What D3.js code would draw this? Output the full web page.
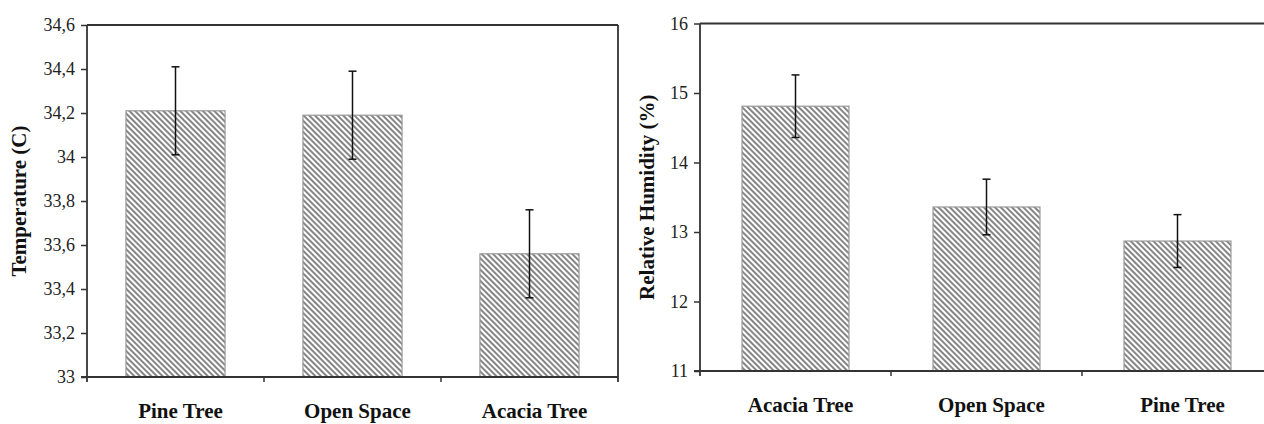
<!DOCTYPE html>
<html lang="en">
<head>
<meta charset="utf-8">
<title>Temperature and humidity</title>
<script src="https://d3js.org/d3.v7.min.js"></script>
<style>
  body { margin: 0; background: #fff; }
</style>
</head>
<body>
<script>
// temperature panel
const tempSites = ["Pine Tree", "Open Space", "Acacia Tree"];
const tempMean = [34.21, 34.19, 33.56];
const tempErr = [0.2, 0.2, 0.2];
const tempTicks = [33, 33.2, 33.4, 33.6, 33.8, 34, 34.2, 34.4, 34.6];

// humidity panel
const humSites = ["Acacia Tree", "Open Space", "Pine Tree"];
const humMean = [14.81, 13.36, 12.87];
const humErr = [0.45, 0.4, 0.38];
const humTicks = [11, 12, 13, 14, 15, 16];

const serif = "'Liberation Serif', serif";

const svg = d3.select("body").append("svg")
  .attr("width", 1264).attr("height", 424);

// diagonal hatch
const pat = svg.append("defs").append("pattern")
  .attr("id", "hatch")
  .attr("patternUnits", "userSpaceOnUse")
  .attr("width", 4).attr("height", 4)
  .attr("patternTransform", "rotate(-45)");
pat.append("rect").attr("width", 4).attr("height", 4).attr("fill", "#fff");
pat.append("rect").attr("width", 2).attr("height", 4).attr("fill", "#858585");

function panel(o) {
  const g = svg.append("g");
  const x = d3.scaleBand().domain(o.sites).range([o.left, o.right])
    .paddingInner(0.44).paddingOuter(0.22);
  const y = d3.scaleLinear().domain(o.domain).range([o.bottom, o.top]);

  // bars
  g.selectAll("rect.bar").data(o.sites).enter().append("rect")
    .attr("class", "bar")
    .attr("x", d => x(d))
    .attr("width", x.bandwidth())
    .attr("y", (d, i) => y(o.mean[i]))
    .attr("height", (d, i) => o.bottom - y(o.mean[i]))
    .attr("fill", "url(#hatch)")
    .attr("stroke", "#999").attr("stroke-width", 1.2);

  // error bars
  const eb = g.selectAll("g.err").data(o.sites).enter().append("g")
    .attr("stroke", "#111").attr("stroke-width", 1.5);
  eb.append("line")
    .attr("x1", d => x(d) + x.bandwidth() / 2).attr("x2", d => x(d) + x.bandwidth() / 2)
    .attr("y1", (d, i) => y(o.mean[i] + o.err[i])).attr("y2", (d, i) => y(o.mean[i] - o.err[i]));
  [1, -1].forEach(s => {
    eb.append("line")
      .attr("x1", d => x(d) + x.bandwidth() / 2 - 4).attr("x2", d => x(d) + x.bandwidth() / 2 + 4)
      .attr("y1", (d, i) => y(o.mean[i] + s * o.err[i])).attr("y2", (d, i) => y(o.mean[i] + s * o.err[i]));
  });

  // y axis
  const ya = g.append("g").attr("transform", `translate(${o.left},0)`)
    .call(d3.axisLeft(y).tickValues(o.ticks).tickSize(6).tickPadding(6)
      .tickFormat(d => String(+d.toFixed(1)).replace(".", ",")));
  ya.select(".domain").remove();
  ya.selectAll("line").attr("stroke", "#333").attr("stroke-width", 1.5);
  ya.selectAll("text").attr("fill", "#222")
    .style("font-family", serif).style("font-size", "18px");

  // frame lines
  g.append("line").attr("x1", o.left).attr("x2", o.left).attr("y1", o.top).attr("y2", o.bottom + 5)
    .attr("stroke", "#333").attr("stroke-width", 1.8);
  g.append("line").attr("x1", o.left).attr("x2", o.right).attr("y1", o.top).attr("y2", o.top)
    .attr("stroke", "#333").attr("stroke-width", 1.8);
  g.append("line").attr("x1", o.left - 6).attr("x2", o.right).attr("y1", o.bottom).attr("y2", o.bottom)
    .attr("stroke", "#333").attr("stroke-width", 1.8);
  g.append("line").attr("x1", o.right).attr("x2", o.right).attr("y1", o.top).attr("y2", o.bottom + 5)
    .attr("stroke", "#333").attr("stroke-width", 1.8);

  // category boundary ticks
  const edges = o.sites.map(d => x(d) - x.step() * x.paddingInner() / 2).slice(1);
  g.selectAll("line.ct").data(edges).enter().append("line")
    .attr("x1", d => d).attr("x2", d => d).attr("y1", o.bottom).attr("y2", o.bottom + 5)
    .attr("stroke", "#333").attr("stroke-width", 1.5);

  // category labels
  g.selectAll("text.cat").data(o.sites).enter().append("text")
    .style("font-family", serif).style("font-weight", "bold").style("font-size", "21px")
    .attr("fill", "#111")
    .attr("x", d => x(d) + x.bandwidth() / 2 + 5)
    .attr("y", o.bottom + 41)
    .attr("text-anchor", "middle")
    .text(d => d);

  // y title
  g.append("text")
    .style("font-family", serif).style("font-weight", "bold").style("font-size", "21px")
    .attr("fill", "#111")
    .attr("transform", `translate(${o.titleX},${(o.top + o.bottom) / 2}) rotate(-90)`)
    .attr("text-anchor", "middle")
    .attr("dy", "0.35em")
    .text(o.title);
}

panel({
  sites: tempSites, mean: tempMean, err: tempErr, ticks: tempTicks,
  domain: [33, 34.6], left: 87, right: 618, top: 25, bottom: 377,
  title: "Temperature (C)", titleX: 19
});

panel({
  sites: humSites, mean: humMean, err: humErr, ticks: humTicks,
  domain: [11, 16], left: 700, right: 1273, top: 23.5, bottom: 371,
  title: "Relative Humidity (%)", titleX: 647
});
</script>
</body>
</html>
